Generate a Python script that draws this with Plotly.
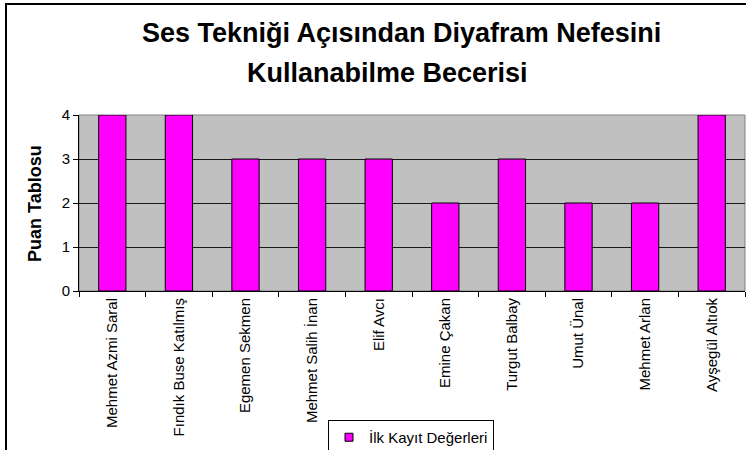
import plotly.graph_objects as go

categories = ["Mehmet Azmi Saral", "Fındık Buse Katılmış", "Egemen Sekmen", "Mehmet Salih İnan",
              "Elif Avcı", "Emine Çakan", "Turgut Balbay", "Umut Ünal", "Mehmet Arlan", "Ayşegül Altıok"]
values = [4, 4, 3, 3, 3, 2, 3, 2, 2, 4]
series_name = "İlk Kayıt Değerleri"
title_lines = ["Ses Tekniği Açısından Diyafram Nefesini", "Kullanabilme Becerisi"]
y_title = "Puan Tablosu"
y_ticks = [0, 1, 2, 3, 4]

FONT = "Liberation Sans, Arial, sans-serif"
BAR_COLOR = "#FF00FF"

fig = go.Figure()
fig.add_trace(go.Bar(
    x=categories, y=values, name=series_name,
    marker=dict(color=BAR_COLOR, line=dict(color="#000000", width=1)),
    showlegend=False,
))
# legend entry with a small square swatch like the reference
fig.add_trace(go.Scatter(
    x=[None], y=[None], mode="markers", name=series_name,
    marker=dict(symbol="square", size=8, color=BAR_COLOR, line=dict(color="black", width=1)),
    showlegend=True, hoverinfo="skip",
))

L, R, T, B = 79, 1, 115, 159
W, H = 746, 450
pw, ph = W - L - R, H - T - B

def px_x(x):
    return (x - L) / pw

def px_y(y):
    return (H - B - y) / ph

fig.update_layout(
    width=W, height=H,
    margin=dict(l=L, r=R, t=T, b=B, pad=0, autoexpand=False),
    paper_bgcolor="white",
    plot_bgcolor="#C0C0C0",
    font=dict(family=FONT, size=15, color="black"),
    bargap=0.59,
    showlegend=True,
    legend=dict(orientation="h", x=px_x(411), xanchor="center", y=px_y(420), yanchor="top",
                bordercolor="black", borderwidth=1, bgcolor="white", itemwidth=30,
                font=dict(family=FONT, size=15)),
    xaxis=dict(
        tickangle=-90, showline=True, linecolor="black", linewidth=1,
        ticks="outside", tickson="boundaries", ticklen=5, tickcolor="black",
        showgrid=False, tickfont=dict(size=15), automargin=False,
    ),
    yaxis=dict(
        range=[0, 4], tickvals=y_ticks, showline=True, linecolor="black", linewidth=1,
        ticks="outside", ticklen=5, tickcolor="black",
        showgrid=True, gridcolor="#1a1a1a", gridwidth=1, zeroline=False,
        tickfont=dict(size=15), automargin=False,
    ),
    shapes=[
        dict(type="rect", xref="paper", yref="paper", x0=0, x1=1, y0=0, y1=1,
             line=dict(color="#808080", width=1), layer="between"),
        dict(type="rect", xref="paper", yref="paper", x0=px_x(6), x1=px_x(760), y0=px_y(470), y1=px_y(4),
             line=dict(color="black", width=2), layer="above"),
    ],
    annotations=[
        dict(text="<b>" + title_lines[0] + "</b>", xref="paper", yref="paper",
             x=px_x(401), y=px_y(33), xanchor="center", yanchor="middle", showarrow=False,
             font=dict(family=FONT, size=27)),
        dict(text="<b>" + title_lines[1] + "</b>", xref="paper", yref="paper",
             x=px_x(387), y=px_y(73), xanchor="center", yanchor="middle", showarrow=False,
             font=dict(family=FONT, size=27)),
        dict(text="<b>" + y_title + "</b>", xref="paper", yref="paper",
             x=px_x(35), y=px_y(204), xanchor="center", yanchor="middle", showarrow=False,
             textangle=-90, font=dict(family=FONT, size=18)),
    ],
)

fig.write_html("out.html", config={"displayModeBar": False},
               post_script="document.body.style.margin='0';document.body.style.overflow='hidden';")
